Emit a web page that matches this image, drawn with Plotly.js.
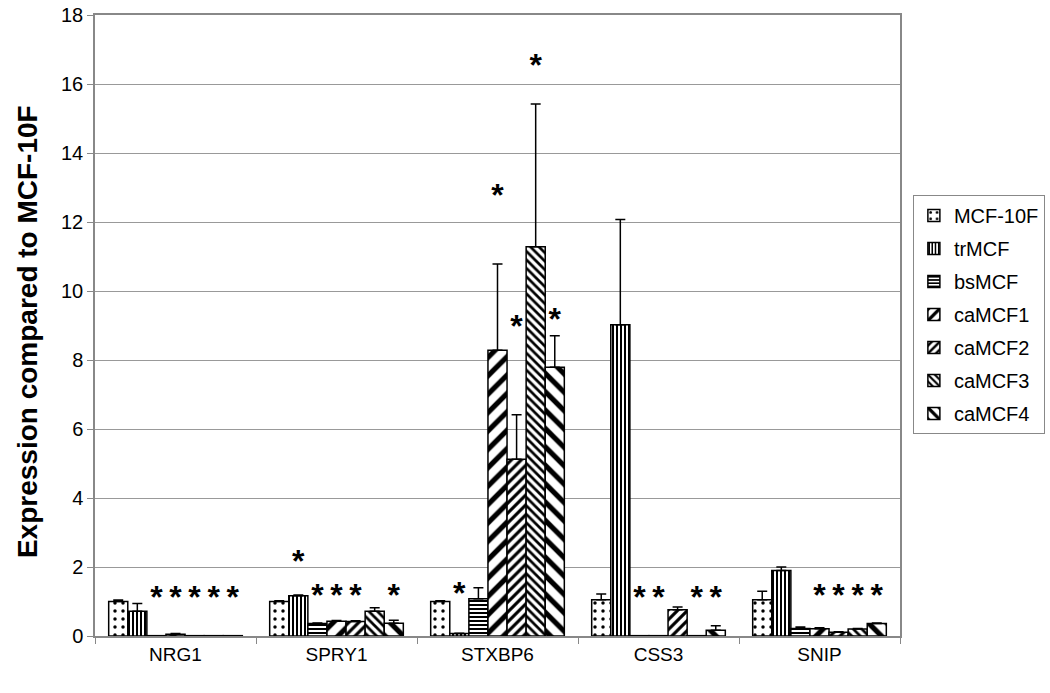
<!DOCTYPE html>
<html>
<head>
<meta charset="utf-8">
<script src="https://cdn.plot.ly/plotly-3.0.1.min.js"></script>
<style>
  body { margin: 0; background: #fff; }
  #chart { width: 1050px; height: 693px; }
</style>
</head>
<body>
<div id="chart"></div>
<script>
// genes on the x axis
var genes = ['NRG1', 'SPRY1', 'STXBP6', 'CSS3', 'SNIP'];

// cell lines (one bar series each)
var lines = ['MCF-10F', 'trMCF', 'bsMCF', 'caMCF1', 'caMCF2', 'caMCF3', 'caMCF4'];

// expression values per cell line, in gene order
var mcf10f = [1.00, 1.00, 1.00, 1.05, 1.05];
var trmcf  = [0.72, 1.17, 0.07, 9.02, 1.90];
var bsmcf  = [0.01, 0.36, 1.08, 0.01, 0.22];
var camcf1 = [0.05, 0.43, 8.28, 0.01, 0.21];
var camcf2 = [0.01, 0.42, 5.12, 0.76, 0.11];
var camcf3 = [0.01, 0.72, 11.28, 0.01, 0.20];
var camcf4 = [0.01, 0.37, 7.79, 0.17, 0.36];

// upper error bars
var mcf10fErr = [0.04, 0.02, 0.02, 0.17, 0.25];
var trmcfErr  = [0.22, 0.02, 0.01, 3.05, 0.10];
var bsmcfErr  = [0.00, 0.02, 0.32, 0.00, 0.04];
var camcf1Err = [0.02, 0.02, 2.50, 0.00, 0.03];
var camcf2Err = [0.00, 0.02, 1.29, 0.08, 0.01];
var camcf3Err = [0.00, 0.10, 4.14, 0.00, 0.02];
var camcf4Err = [0.00, 0.09, 0.91, 0.13, 0.02];

// significance stars: gene index, cell line index, height
var starGene   = [0, 0, 0, 0, 0, 1, 1, 1, 1, 1, 2, 2, 2, 2, 2, 3, 3, 3, 3, 4, 4, 4, 4];
var starLine   = [2, 3, 4, 5, 6, 1, 2, 3, 4, 6, 1, 3, 4, 5, 6, 2, 3, 5, 6, 3, 4, 5, 6];
var starHeight = [1.05, 1.05, 1.05, 1.05, 1.05, 2.1, 1.1, 1.1, 1.1, 1.1, 1.15, 12.7, 8.9, 16.45, 9.1, 1.05, 1.05, 1.05, 1.05, 1.1, 1.1, 1.1, 1.1];

var values = [mcf10f, trmcf, bsmcf, camcf1, camcf2, camcf3, camcf4];
var errors = [mcf10fErr, trmcfErr, bsmcfErr, camcf1Err, camcf2Err, camcf3Err, camcf4Err];

// pattern for each cell line
var patterns = [
    {shape: '.', size: 8, solidity: 0.15},
    {shape: '|', size: 4, solidity: 0.5},
    {shape: '-', size: 4, solidity: 0.5},
    {shape: '/', size: 13, solidity: 0.4},
    {shape: '/', size: 7, solidity: 0.45},
    {shape: '\\', size: 6, solidity: 0.45},
    {shape: '\\', size: 13, solidity: 0.4}
];

var bargap = 0.17;
var barWidth = (1 - bargap) / lines.length;

var data = [];
for (var i = 0; i < lines.length; i++) {
    data.push({
        type: 'bar',
        name: lines[i],
        legendgroup: lines[i],
        x: genes,
        y: values[i],
        marker: {
            color: 'white',
            line: {color: 'black', width: 1.5},
            pattern: {
                shape: patterns[i].shape,
                size: patterns[i].size,
                solidity: patterns[i].solidity,
                fgcolor: 'black',
                fgopacity: 1,
                bgcolor: 'white',
                fillmode: 'replace'
            }
        },
        error_y: {
            type: 'data',
            symmetric: false,
            array: errors[i],
            arrayminus: errors[i].map(function () { return 0; }),
            color: 'black',
            thickness: 1.5,
            width: 5
        }
    });
}

// stars drawn on an overlaid numeric axis lined up with the categories
var starX = [];
for (var s = 0; s < starGene.length; s++) {
    starX.push(starGene[s] + (starLine[s] - (lines.length - 1) / 2) * barWidth);
}
data.push({
    type: 'scatter',
    mode: 'text',
    x: starX,
    y: starHeight,
    text: starX.map(function () { return '<b>*</b>'; }),
    textfont: {family: 'Arial, Liberation Sans', size: 32, color: 'black'},
    xaxis: 'x2',
    showlegend: false,
    hoverinfo: 'skip'
});

var layout = {
    width: 1050,
    height: 693,
    margin: {l: 95, r: 150, t: 15, b: 57, autoexpand: false},
    paper_bgcolor: 'white',
    plot_bgcolor: 'white',
    font: {family: 'Arial, Liberation Sans', color: 'black'},
    barmode: 'group',
    bargap: bargap,
    bargroupgap: 0,
    xaxis: {
        type: 'category',
        tickson: 'boundaries',
        ticks: 'outside',
        ticklen: 6,
        tickcolor: '#888',
        showline: true,
        linecolor: '#888',
        linewidth: 1.5,
        mirror: true,
        showgrid: false,
        tickfont: {size: 19}
    },
    xaxis2: {
        overlaying: 'x',
        range: [-0.5, genes.length - 0.5],
        visible: false
    },
    yaxis: {
        range: [0, 18],
        dtick: 2,
        ticks: 'outside',
        ticklen: 6,
        tickcolor: '#888',
        showline: true,
        linecolor: '#888',
        linewidth: 1.5,
        mirror: true,
        showgrid: true,
        gridcolor: '#999',
        gridwidth: 1,
        zeroline: false,
        tickfont: {size: 20}
    },
    annotations: [{
        text: '<b>Expression compared to MCF-10F</b>',
        textangle: -90,
        xref: 'paper',
        yref: 'paper',
        x: -0.0845,
        y: 0.491,
        xanchor: 'center',
        yanchor: 'middle',
        showarrow: false,
        font: {size: 28}
    }],
    legend: {
        x: 1.016,
        xanchor: 'left',
        y: 0.71,
        yanchor: 'top',
        bordercolor: '#888',
        borderwidth: 1,
        font: {size: 20},
        tracegroupgap: 4,
        itemwidth: 30
    },
    showlegend: true
};

Plotly.newPlot('chart', data, layout, {displayModeBar: false});
</script>
</body>
</html>
